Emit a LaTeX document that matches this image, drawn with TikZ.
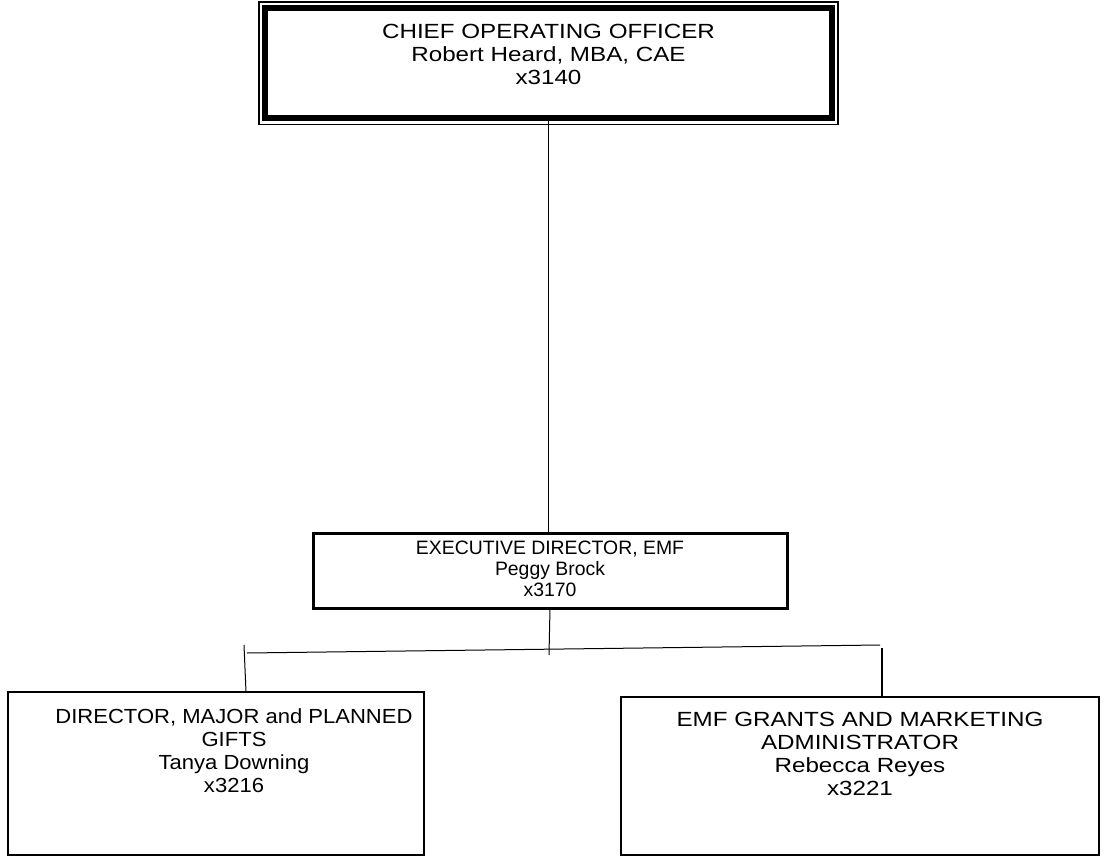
\documentclass[tikz,border=0pt]{standalone}
\usepackage{fontspec}
\setmainfont[FakeStretch=1.18]{Liberation Sans}
\newfontfamily\midfont[FakeStretch=1.0]{Liberation Sans}
\newfontfamily\leftfont[FakeStretch=1.08]{Liberation Sans}
\usetikzlibrary{calc}

% text at the top of a box of given width and height
\newcommand{\boxtext}[5][0pt]{\parbox[c][#3][t]{#2}{\centering\leftskip=#1 plus 1fil\vspace*{#4}#5\par}}

\begin{document}
\begin{tikzpicture}[x=1pt, y=-1pt, font=\fontsize{20.5}{23}\selectfont,
    orgbox/.style={draw, line width=2.5pt, inner sep=0pt, outer sep=0pt},
    link/.style={line width=1pt}]
  \useasboundingbox (0,0) rectangle (1103,856);

  % boxes
  \node[orgbox, line width=6pt] (coo) at (548.5,63.25)
    {\boxtext{567pt}{110.5pt}{16pt}{CHIEF OPERATING OFFICER\\Robert Heard, MBA, CAE\\x3140}};
  \draw[line width=1.5pt] ([shift={(-6,-6)}]coo.north west) rectangle ([shift={(6,6)}]coo.south east);
  \node[orgbox, line width=3pt, font=\midfont\fontsize{19.4}{21}\selectfont] (execdir) at (550,570.5)
    {\boxtext{474pt}{75pt}{7.5pt}{EXECUTIVE DIRECTOR, EMF\\Peggy Brock\\x3170}};
  \node[orgbox, font=\leftfont\fontsize{20.4}{23}\selectfont] (majorgifts) at (216,773.5)
    {\boxtext[36pt]{416pt}{163pt}{17pt}{DIRECTOR, MAJOR and PLANNED\\GIFTS\\Tanya Downing\\x3216}};
  \node[orgbox] (grantsadmin) at (860,776)
    {\boxtext{478pt}{158pt}{15pt}{EMF GRANTS AND MARKETING\\ADMINISTRATOR\\Rebecca Reyes\\x3221}};

  % connectors
  \coordinate (hub) at (549,655);
  \coordinate (barL) at (247,653); \coordinate (barR) at (880,645);
  \coordinate (dropL) at (244,645); \coordinate (dropR) at (882,648);
  \draw[link, line width=1.5pt] (coo.south) -- (coo.south |- execdir.north);
  \draw[link] (execdir.south) -- (hub);
  \draw[link] (barL) -- (barR);
  \draw[link] (dropL) -- ([xshift=30]majorgifts.north);
  \draw[link, line width=1.5pt] (dropR) -- ([xshift=22]grantsadmin.north);
\end{tikzpicture}
\end{document}
